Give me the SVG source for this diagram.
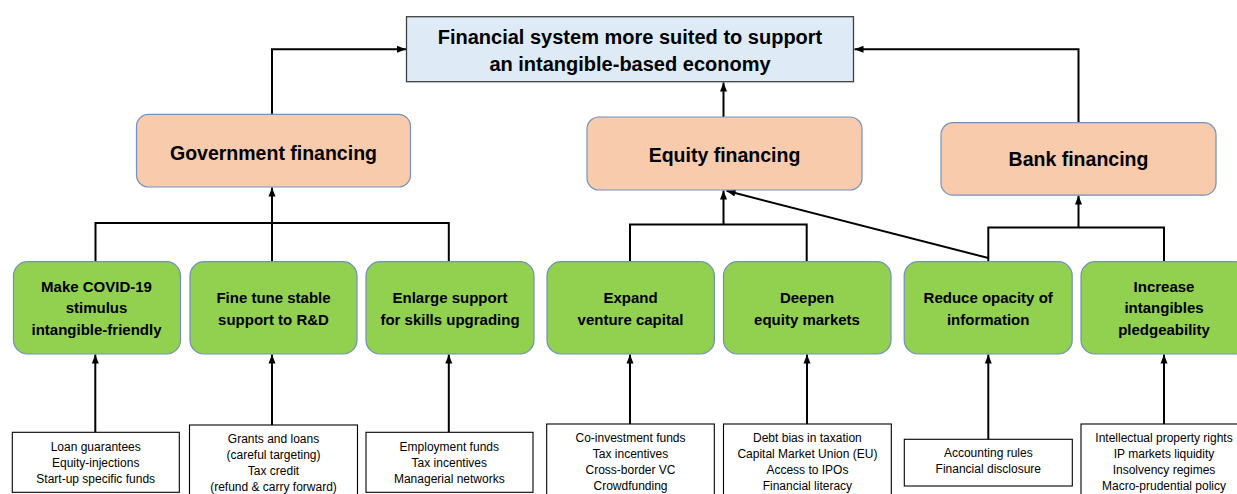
<svg xmlns="http://www.w3.org/2000/svg" width="1237" height="494" viewBox="0 0 1237 494">
<defs>
<marker id="ah" markerUnits="userSpaceOnUse" markerWidth="10" markerHeight="10" viewBox="0 0 10 10" refX="9" refY="5" orient="auto">
<path d="M0,1.5 L9,5 L0,8.5 Z" fill="#000"/>
</marker>
<style>
.top{fill:#deebf7;stroke:#404040;stroke-width:1.3}
.org{fill:#f8cbad;stroke:#7192c0;stroke-width:1.2}
.grn{fill:#92d050;stroke:#6f8fbf;stroke-width:1.2}
.wht{fill:#fff;stroke:#000;stroke-width:1.1}
.c{fill:none;stroke:#000;stroke-width:2}
.a{fill:none;stroke:#000;stroke-width:2;marker-end:url(#ah)}
text{font-family:"Liberation Sans",Arial,sans-serif;fill:#000;text-anchor:middle}
.tt{font-size:20px;font-weight:bold}
.ot{font-size:19.5px;font-weight:bold}
.gt{font-size:15px;font-weight:bold}
.wt{font-size:12px}
</style>
</defs>
<rect width="1237" height="494" fill="#fff"/>
<g id="connectors">
<path class="a" d="M272,114 V49.3 H406"/>
<path class="a" d="M723.5,117 V82.5"/>
<path class="a" d="M1078.5,122.7 V49.3 H854.5"/>
<path class="c" d="M95.5,262 V223 H448.8 V262"/>
<path class="a" d="M272,262 V187.5"/>
<path class="c" d="M630,262 V224.5 H806.7 V262"/>
<path class="a" d="M723.5,224.5 V190.5"/>
<path class="c" d="M988.3,261 V227.5 H1164 V262"/>
<path class="a" d="M1078.5,227.5 V195.5"/>
<path class="a" d="M988.3,258 L726.5,190.8"/>
<path class="a" d="M95.3,432 V354.5"/>
<path class="a" d="M272,425 V354.5"/>
<path class="a" d="M448.8,432 V354.5"/>
<path class="a" d="M630,424 V354.5"/>
<path class="a" d="M807,424 V354.5"/>
<path class="a" d="M988.3,439 V354.5"/>
<path class="a" d="M1164,424 V354.5"/>
</g>
<g id="goal">
<rect class="top" x="406.5" y="16.7" width="447" height="65"/>
<text class="tt" x="630" y="43.5">Financial system more suited to support</text>
<text class="tt" x="630" y="70.7">an intangible-based economy</text>
</g>
<g id="gov">
<rect class="org" x="136.5" y="114.3" width="274" height="72.7" rx="12"/>
<text class="ot" x="273.5" y="159.5">Government financing</text>
</g>
<g id="equity">
<rect class="org" x="587" y="117" width="275" height="73" rx="12"/>
<text class="ot" x="724.5" y="161.7">Equity financing</text>
</g>
<g id="bank">
<rect class="org" x="941" y="122.7" width="275" height="72.5" rx="12"/>
<text class="ot" x="1078.5" y="166">Bank financing</text>
</g>
<g id="g1">
<rect class="grn" x="13.5" y="261.7" width="167" height="92.3" rx="14"/>
<text class="gt" x="96.5" y="291.7">Make COVID-19</text>
<text class="gt" x="96.5" y="313.3">stimulus</text>
<text class="gt" x="96.5" y="335">intangible-friendly</text>
</g>
<g id="g2">
<rect class="grn" x="190" y="261.7" width="167" height="92.3" rx="14"/>
<text class="gt" x="273.5" y="303.3">Fine tune stable</text>
<text class="gt" x="273.5" y="324.5">support to R&amp;D</text>
</g>
<g id="g3">
<rect class="grn" x="366" y="261.7" width="168" height="92.3" rx="14"/>
<text class="gt" x="450" y="303.3">Enlarge support</text>
<text class="gt" x="450" y="324.5">for skills upgrading</text>
</g>
<g id="g4">
<rect class="grn" x="547" y="261.7" width="167.4" height="92.3" rx="14"/>
<text class="gt" x="630.5" y="303.3">Expand</text>
<text class="gt" x="630.5" y="324.5">venture capital</text>
</g>
<g id="g5">
<rect class="grn" x="723.5" y="261.7" width="167.5" height="92.3" rx="14"/>
<text class="gt" x="807" y="303.3">Deepen</text>
<text class="gt" x="807" y="324.5">equity markets</text>
</g>
<g id="g6">
<rect class="grn" x="904.2" y="261.7" width="168" height="92.3" rx="14"/>
<text class="gt" x="988.2" y="303.3">Reduce opacity of</text>
<text class="gt" x="988.2" y="324.5">information</text>
</g>
<g id="g7">
<rect class="grn" x="1081" y="261.7" width="168" height="92.3" rx="14"/>
<text class="gt" x="1164" y="291.7">Increase</text>
<text class="gt" x="1164" y="313.3">intangibles</text>
<text class="gt" x="1164" y="335">pledgeability</text>
</g>
<g id="w1">
<rect class="wht" x="12.3" y="432.3" width="167" height="60"/>
<text class="wt" x="95.7" y="450.5">Loan guarantees</text>
<text class="wt" x="95.7" y="466.5">Equity-injections</text>
<text class="wt" x="95.7" y="482.5">Start-up specific funds</text>
</g>
<g id="w2">
<rect class="wht" x="189.5" y="425" width="168" height="75"/>
<text class="wt" x="273.5" y="442.5">Grants and loans</text>
<text class="wt" x="273.5" y="458.5">(careful targeting)</text>
<text class="wt" x="273.5" y="474.5">Tax credit</text>
<text class="wt" x="273.5" y="490.5">(refund &amp; carry forward)</text>
</g>
<g id="w3">
<rect class="wht" x="366" y="432.3" width="167" height="60"/>
<text class="wt" x="449.3" y="450.5">Employment funds</text>
<text class="wt" x="449.3" y="466.5">Tax incentives</text>
<text class="wt" x="449.3" y="482.5">Managerial networks</text>
</g>
<g id="w4">
<rect class="wht" x="546.7" y="424" width="167.6" height="76"/>
<text class="wt" x="630.5" y="441.7">Co-investment funds</text>
<text class="wt" x="630.5" y="457.7">Tax incentives</text>
<text class="wt" x="630.5" y="473.7">Cross-border VC</text>
<text class="wt" x="630.5" y="489.7">Crowdfunding</text>
</g>
<g id="w5">
<rect class="wht" x="723.5" y="424" width="167.8" height="76"/>
<text class="wt" x="807.4" y="441.7">Debt bias in taxation</text>
<text class="wt" x="807.4" y="457.7">Capital Market Union (EU)</text>
<text class="wt" x="807.4" y="473.7">Access to IPOs</text>
<text class="wt" x="807.4" y="489.7">Financial literacy</text>
</g>
<g id="w6">
<rect class="wht" x="904.3" y="439.3" width="168" height="46.7"/>
<text class="wt" x="988.3" y="456.7">Accounting rules</text>
<text class="wt" x="988.3" y="472.7">Financial disclosure</text>
</g>
<g id="w7">
<rect class="wht" x="1081" y="424" width="168" height="76"/>
<text class="wt" x="1164" y="441.7">Intellectual property rights</text>
<text class="wt" x="1164" y="457.7">IP markets liquidity</text>
<text class="wt" x="1164" y="473.7">Insolvency regimes</text>
<text class="wt" x="1164" y="489.7">Macro-prudential policy</text>
</g>
</svg>
